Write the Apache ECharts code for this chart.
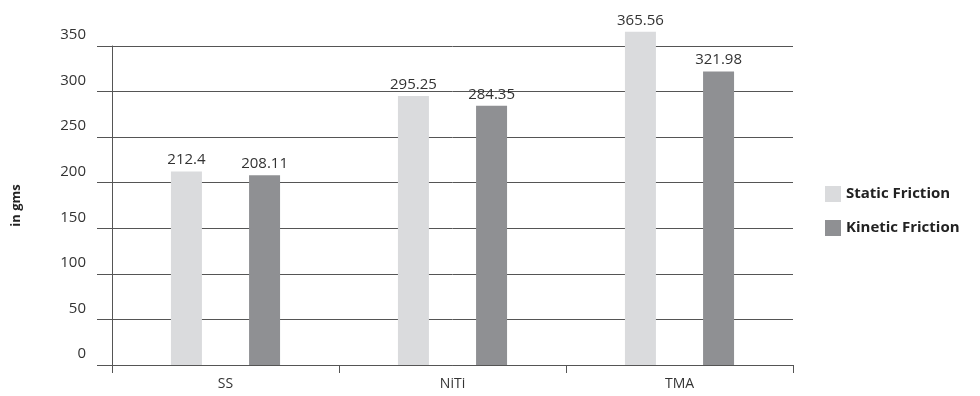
<!DOCTYPE html>
<html>
<head>
<meta charset="utf-8">
<script src="https://cdn.jsdelivr.net/npm/echarts@6/dist/echarts.min.js"></script>
<style>
html, body { margin: 0; padding: 0; background: #fff; }
#Bar { width: 980px; height: 396px; }
</style>
</head>
<body>
<div id="Bar"></div>
<script>
// 数据
var categories = ['SS', 'NiTi', 'TMA'];
var staticFriction = [212.4, 295.25, 365.56];
var kineticFriction = [208.11, 284.35, 321.98];
var seriesNames = ['Static Friction', 'Kinetic Friction'];

var fontName = 'Open Sans';

function BarChart() {
    var myChart = echarts.init(document.getElementById('Bar'));
    var labelStyle = {
        show: true,
        position: 'top',
        distance: 4,
        fontFamily: fontName,
        fontSize: 15,
        color: '#333'
    };
    var option = {
        animation: false,
        grid: { left: 112, right: 187, top: 46, bottom: 31, containLabel: false, outerBoundsMode: 'none' },
        legend: {
            orient: 'vertical',
            left: 820,
            top: 181,
            icon: 'rect',
            itemWidth: 16,
            itemHeight: 16,
            itemGap: 18,
            textStyle: { fontFamily: fontName, fontWeight: 'bold', fontSize: 15, color: '#222' },
            data: seriesNames
        },
        xAxis: {
            type: 'category',
            data: categories,
            axisLine: { lineStyle: { color: '#555', width: 1 } },
            axisTick: { show: true, length: 8, lineStyle: { color: '#555' } },
            axisLabel: { margin: 12, fontFamily: fontName, fontSize: 14, color: '#333' }
        },
        yAxis: {
            type: 'value',
            min: 0,
            max: 350,
            interval: 50,
            name: 'in gms',
            nameLocation: 'middle',
            nameRotate: 90,
            nameGap: 89,
            nameTextStyle: { fontFamily: fontName, fontWeight: 'bold', fontSize: 13, color: '#222' },
            axisLine: { show: true, lineStyle: { color: '#555', width: 1 } },
            axisTick: { show: true, length: 15, lineStyle: { color: '#555' } },
            splitLine: { show: true, lineStyle: { color: '#555', width: 1 } },
            axisLabel: {
                margin: 26,
                fontFamily: fontName,
                fontSize: 15,
                color: '#333',
                verticalAlign: 'bottom',
                lineHeight: 22
            }
        },
        series: [{
            name: seriesNames[0],
            type: 'bar',
            data: staticFriction,
            barWidth: 31,
            barGap: '152%',
            clip: false,
            itemStyle: { color: '#dadbdd' },
            label: labelStyle
        }, {
            name: seriesNames[1],
            type: 'bar',
            data: kineticFriction,
            barWidth: 31,
            barGap: '152%',
            clip: false,
            itemStyle: { color: '#8f9093' },
            label: labelStyle
        }]
    };
    myChart.setOption(option);
}
BarChart();
</script>
</body>
</html>
